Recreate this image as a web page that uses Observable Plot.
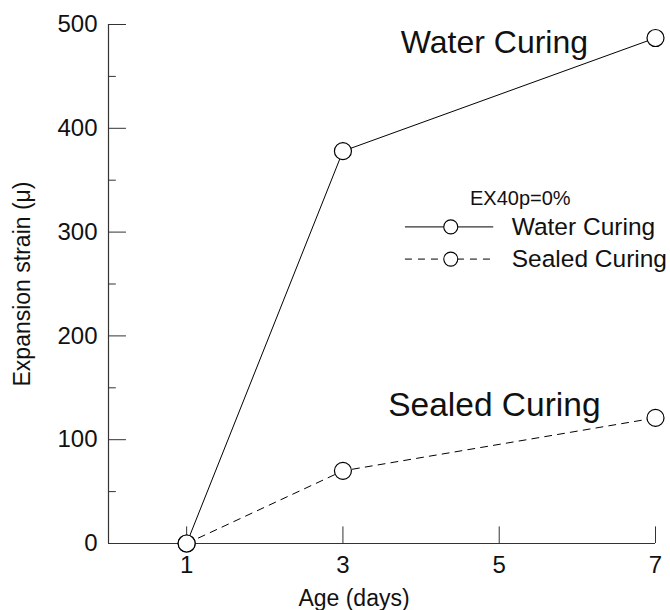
<!DOCTYPE html>
<html>
<head>
<meta charset="utf-8">
<script src="https://cdn.jsdelivr.net/npm/d3@7"></script>
<script src="https://cdn.jsdelivr.net/npm/@observablehq/plot@0.6"></script>
<style>
  body { margin: 0; background: #fff; }
  svg { font-family: "Liberation Sans", Arial, sans-serif; }
</style>
</head>
<body>
<div id="chart"></div>
<script>
const ages = [1, 3, 7];
const waterCuring = [0, 378, 487];
const sealedCuring = [0, 70, 121];
const xTicks = [1, 3, 5, 7];
const yTicks = [0, 100, 200, 300, 400, 500];
const yMinorTicks = [50, 150, 250, 350, 450];

const water = ages.map((a, i) => ({age: a, strain: waterCuring[i]}));
const sealed = ages.map((a, i) => ({age: a, strain: sealedCuring[i]}));

const xLabel = "Age (days)";
const yLabel = "Expansion strain (μ)";
const legendTitle = "EX40p=0%";
const legendItems = [
  {name: "Water Curing", y: 305},
  {name: "Sealed Curing", y: 274}
];

const plot = Plot.plot({
  width: 670,
  height: 610,
  marginLeft: 108,
  marginRight: 15,
  marginTop: 24,
  marginBottom: 67,
  style: {fontFamily: "Liberation Sans, Arial, sans-serif", background: "#fff", color: "#000"},
  x: {domain: [0, 7]},
  y: {domain: [0, 500]},
  marks: [
    // axes lines
    Plot.ruleY([0], {stroke: "#333", strokeWidth: 1.2}),
    Plot.ruleX([0], {stroke: "#333", strokeWidth: 1.2}),
    // inward ticks
    Plot.ruleX(xTicks, {x: d => d, y1: 0, y2: 16, stroke: "#333"}),
    Plot.ruleY(yTicks, {y: d => d, x1: 0, x2: 0.23, stroke: "#333"}),
    Plot.ruleY(yMinorTicks, {y: d => d, x1: 0, x2: 0.1, stroke: "#333"}),
    Plot.axisX({ticks: xTicks, tickSize: 0, tickPadding: 12, fontSize: 24, tickFormat: d => String(d), label: null, fill: "#111"}),
    Plot.axisY({ticks: yTicks, tickSize: 0, tickPadding: 11, fontSize: 24, tickFormat: d => String(d), label: null, fill: "#111"}),
    Plot.text([xLabel], {text: d => d, frameAnchor: "bottom", lineAnchor: "middle", textAnchor: "middle", dy: 55, dx: -28, fontSize: 23, fill: "#111"}),
    Plot.text([yLabel], {text: d => d, frameAnchor: "left", textAnchor: "middle", lineAnchor: "middle", dx: -86, rotate: -90, fontSize: 23, fill: "#111"}),
    // series
    Plot.line(water, {x: "age", y: "strain", stroke: "#000", strokeWidth: 1}),
    Plot.line(sealed, {x: "age", y: "strain", stroke: "#000", strokeWidth: 1, strokeDasharray: "7,6"}),
    Plot.dot(water, {x: "age", y: "strain", r: 8.5, stroke: "#000", fill: "#fff", strokeWidth: 1.2}),
    Plot.dot(sealed, {x: "age", y: "strain", r: 8.5, stroke: "#000", fill: "#fff", strokeWidth: 1.2}),
    // annotations
    Plot.text(["Water Curing"], {x: 3.74, y: 482, text: d => d, textAnchor: "start", fontSize: 32, fill: "#111"}),
    Plot.text(["Sealed Curing"], {x: 3.58, y: 133, text: d => d, textAnchor: "start", fontSize: 33.5, fill: "#111"}),
    // legend
    Plot.text([legendTitle], {x: 5.27, y: 332, text: d => d, fontSize: 20, fill: "#111"}),
    Plot.ruleY([legendItems[0]], {y: "y", x1: 3.80, x2: 4.93, stroke: "#000", strokeWidth: 1}),
    Plot.ruleY([legendItems[1]], {y: "y", x1: 3.80, x2: 4.93, stroke: "#000", strokeWidth: 1, strokeDasharray: "7,6"}),
    Plot.dot(legendItems, {x: 4.38, y: "y", r: 7, stroke: "#000", fill: "#fff", strokeWidth: 1.1}),
    Plot.text(legendItems, {x: 5.16, y: "y", text: "name", textAnchor: "start", fontSize: 24.5, fill: "#111"})
  ]
});
document.getElementById("chart").appendChild(plot);
</script>
</body>
</html>
